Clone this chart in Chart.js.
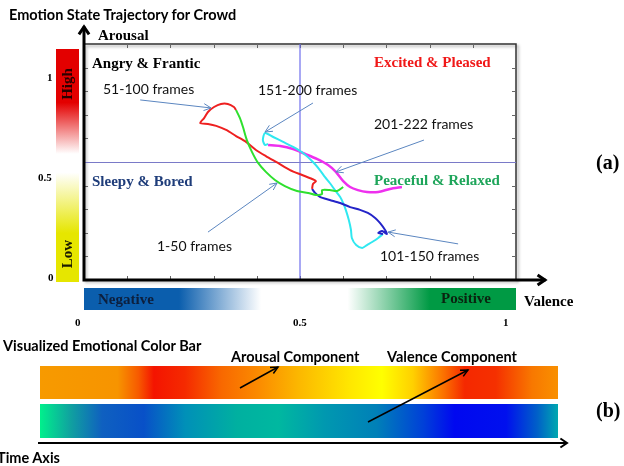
<!DOCTYPE html>
<html lang="en">
<head>
<meta charset="UTF-8">
<title>Emotion State Trajectory for Crowd</title>
<style>
    body { margin: 0; background: #fff; }
    #wrap { position: relative; width: 624px; height: 466px; overflow: hidden; }
    #chart { position: absolute; left: 0; top: 0; z-index: 1; }
    .bar { position: absolute; z-index: 0; }
    .lbl { position: absolute; z-index: 2; white-space: nowrap; line-height: 1; transform: translateY(-50%); }
    .serif { font-family: "Liberation Serif", serif; font-weight: bold; font-size: 15px; color: #000; }
    .sans { font-family: Lato, sans-serif; font-size: 14px; color: #111; }
    .head { font-family: Lato, sans-serif; font-weight: bold; font-size: 14.5px; color: #000; }
    .tick { font-family: "Liberation Serif", serif; font-weight: bold; font-size: 11px; color: #000; }
    .rot { transform: translate(-50%, -50%) rotate(-90deg); }

    #arousalScale { left: 56px; top: 49px; width: 23px; height: 233px;
        background: linear-gradient(to bottom, #e30000 0%, #e30000 23%, #ffffff 45%, #ffffff 53%, #e6e600 79%, #e6e600 100%); }
    #valenceScale { left: 84px; top: 288px; width: 432px; height: 22px;
        background: linear-gradient(to right, #0b5ead 0%, #0b5ead 22%, #ffffff 41%, #ffffff 61%, #009a44 80%, #009a44 100%); }
    #arousalBand { left: 40px; top: 366px; width: 518px; height: 33px;
        background: linear-gradient(to right, #f79a00 0%, #f79400 15%, #f75a00 19%, #f41400 22%, #f52a00 28%, #f86800 35%,
            #fb8a00 42%, #fcb800 50%, #ffe800 60%, #ffff00 66%, #ffd000 72%, #fb7000 78%, #f52800 82%, #f53000 88%,
            #f87800 95%, #f99000 100%); }
    #valenceBand { left: 40px; top: 404px; width: 518px; height: 34px;
        background: linear-gradient(to right, #00f08c 0%, #10a0a0 6%, #0f60c0 12%, #0850c8 20%, #0090b8 28%, #00b0a0 38%,
            #00b8a0 46%, #0098b0 55%, #0080b8 65%, #0040d8 74%, #0008f0 80%, #0010ee 90%, #0060c8 96%, #00a8b0 100%); }
</style>
</head>
<body>
<div id="wrap">
    <div class="bar" id="arousalScale"></div>
    <div class="bar" id="valenceScale"></div>
    <div class="bar" id="arousalBand"></div>
    <div class="bar" id="valenceBand"></div>

    <canvas id="chart" width="624" height="466"></canvas>

    <div class="lbl head" style="left:9px; top:15px;">Emotion State Trajectory for Crowd</div>
    <div class="lbl serif" style="left:98px; top:35px;">Arousal</div>
    <div class="lbl serif" style="left:92px; top:63px;">Angry &amp; Frantic</div>
    <div class="lbl serif" style="left:374px; top:62px; color:#f01818;">Excited &amp; Pleased</div>
    <div class="lbl serif" style="left:92px; top:181px; color:#1f3d7a;">Sleepy &amp; Bored</div>
    <div class="lbl serif" style="left:374px; top:180px; color:#1ea55a;">Peaceful &amp; Relaxed</div>

    <div class="lbl sans" style="left:103px; top:89px;">51-100 frames</div>
    <div class="lbl sans" style="left:258px; top:90px;">151-200 frames</div>
    <div class="lbl sans" style="left:374px; top:124px;">201-222 frames</div>
    <div class="lbl sans" style="left:157px; top:246px;">1-50 frames</div>
    <div class="lbl sans" style="left:380px; top:256px;">101-150 frames</div>

    <div class="lbl serif rot" style="left:67px; top:84px; color:#2a0000;">High</div>
    <div class="lbl serif rot" style="left:67px; top:254px; color:#1a1a00;">Low</div>
    <div class="lbl tick" style="left:47px; top:77px;">1</div>
    <div class="lbl tick" style="left:38px; top:177px;">0.5</div>
    <div class="lbl tick" style="left:48px; top:277px;">0</div>

    <div class="lbl serif" style="left:98px; top:299px; color:#0d1f3d;">Negative</div>
    <div class="lbl serif" style="left:441px; top:298px; color:#0a2410;">Positive</div>
    <div class="lbl serif" style="left:524px; top:301px;">Valence</div>
    <div class="lbl tick" style="left:75px; top:322px;">0</div>
    <div class="lbl tick" style="left:293px; top:322px;">0.5</div>
    <div class="lbl tick" style="left:503px; top:322px;">1</div>

    <div class="lbl serif" style="left:596px; top:162px; font-size:20px;">(a)</div>
    <div class="lbl serif" style="left:596px; top:410px; font-size:20px;">(b)</div>

    <div class="lbl head" style="left:3px; top:346px;">Visualized Emotional Color Bar</div>
    <div class="lbl head" style="left:231px; top:357px;">Arousal Component</div>
    <div class="lbl head" style="left:387px; top:357px;">Valence Component</div>
    <div class="lbl head" style="left:-3px; top:458px;">Time Axis</div>
</div>

<script src="https://cdn.jsdelivr.net/npm/chart.js"></script>
<script>
// trajectory segments (valence, arousal in 0..1)
const segmentNames = ['1-50 frames', '51-100 frames', '101-150 frames', '151-200 frames', '201-222 frames'];
const segmentColors = ['#2ee02e', '#ee2020', '#2424c8', '#30e8f0', '#ee30ee'];

const valence1_50 = [0.600, 0.586, 0.569, 0.551, 0.551, 0.537, 0.519, 0.493, 0.465, 0.442, 0.421, 0.403, 0.389, 0.377, 0.368, 0.361, 0.352];
const arousal1_50 = [0.394, 0.377, 0.381, 0.381, 0.364, 0.360, 0.369, 0.377, 0.398, 0.424, 0.458, 0.496, 0.542, 0.593, 0.648, 0.686, 0.720];

const valence51_100 = [0.352, 0.347, 0.333, 0.317, 0.301, 0.287, 0.278, 0.269, 0.287, 0.306, 0.329, 0.352, 0.375, 0.398, 0.421, 0.449, 0.477, 0.505, 0.528, 0.537, 0.530, 0.528];
const arousal51_100 = [0.720, 0.733, 0.746, 0.746, 0.733, 0.712, 0.686, 0.665, 0.661, 0.653, 0.636, 0.610, 0.585, 0.551, 0.525, 0.496, 0.466, 0.445, 0.428, 0.419, 0.407, 0.386];

const valence101_150 = [0.528, 0.535, 0.546, 0.569, 0.593, 0.616, 0.639, 0.657, 0.674, 0.685, 0.697, 0.701, 0.690, 0.681, 0.692];
const arousal101_150 = [0.386, 0.369, 0.352, 0.339, 0.326, 0.309, 0.297, 0.284, 0.263, 0.242, 0.212, 0.195, 0.208, 0.199, 0.195];

const valence151_200 = [0.692, 0.681, 0.667, 0.655, 0.644, 0.630, 0.620, 0.618, 0.613, 0.606, 0.600, 0.593, 0.581, 0.569, 0.558, 0.546, 0.530, 0.507, 0.484, 0.461, 0.438, 0.419, 0.414, 0.419, 0.426];
const arousal151_200 = [0.195, 0.178, 0.161, 0.148, 0.136, 0.148, 0.178, 0.212, 0.254, 0.297, 0.326, 0.352, 0.381, 0.411, 0.436, 0.466, 0.500, 0.538, 0.564, 0.585, 0.606, 0.623, 0.593, 0.572, 0.576];

const valence201_222 = [0.426, 0.454, 0.484, 0.512, 0.539, 0.565, 0.583, 0.600, 0.616, 0.634, 0.655, 0.681, 0.708, 0.736];
const arousal201_222 = [0.572, 0.568, 0.555, 0.534, 0.513, 0.487, 0.458, 0.419, 0.394, 0.381, 0.373, 0.373, 0.386, 0.394];

// callout arrows for the frame labels (tail -> head, data units)
const calloutTail = [[0.287, 0.203], [0.130, 0.763], [0.866, 0.153], [0.530, 0.750], [0.787, 0.593]];
const calloutHead = [[0.447, 0.411], [0.294, 0.729], [0.704, 0.203], [0.419, 0.627], [0.583, 0.458]];

const gridTicks = [0.1, 0.2, 0.3, 0.4, 0.5, 0.6, 0.7, 0.8, 0.9];

const valenceSets = [valence1_50, valence51_100, valence101_150, valence151_200, valence201_222];
const arousalSets = [arousal1_50, arousal51_100, arousal101_150, arousal151_200, arousal201_222];

function chevron(ctx, x0, y0, x1, y1, len, spread) {
    const ang = Math.atan2(y1 - y0, x1 - x0);
    ctx.beginPath();
    ctx.moveTo(x1 - len * Math.cos(ang - spread), y1 - len * Math.sin(ang - spread));
    ctx.lineTo(x1, y1);
    ctx.lineTo(x1 - len * Math.cos(ang + spread), y1 - len * Math.sin(ang + spread));
    ctx.stroke();
}

function arrow(ctx, x0, y0, x1, y1, len, spread) {
    ctx.beginPath();
    ctx.moveTo(x0, y0);
    ctx.lineTo(x1, y1);
    ctx.stroke();
    chevron(ctx, x0, y0, x1, y1, len, spread);
}

const frameDeco = {
    id: 'frameDeco',
    beforeDatasetsDraw(chart) {
        const { ctx, chartArea: a, scales: { x, y } } = chart;
        ctx.save();
        ctx.shadowColor = 'rgba(0,0,0,0.35)';
        ctx.shadowOffsetX = 2;
        ctx.shadowOffsetY = 2;
        ctx.shadowBlur = 3;
        ctx.strokeStyle = '#333';
        ctx.lineWidth = 1.5;
        ctx.strokeRect(a.left, a.top, a.right - a.left, a.bottom - a.top);
        ctx.restore();

        ctx.save();
        ctx.strokeStyle = '#666';
        ctx.lineWidth = 1;
        gridTicks.forEach(t => {
            const px = Math.round(x.getPixelForValue(t)) + 0.5;
            const py = Math.round(y.getPixelForValue(t)) + 0.5;
            ctx.beginPath();
            ctx.moveTo(px, a.top); ctx.lineTo(px, a.top + 4);
            ctx.moveTo(px, a.bottom); ctx.lineTo(px, a.bottom - 4);
            ctx.moveTo(a.left, py); ctx.lineTo(a.left + 4, py);
            ctx.moveTo(a.right, py); ctx.lineTo(a.right - 4, py);
            ctx.stroke();
        });
        // quadrant dividers
        ctx.strokeStyle = 'rgba(100,100,235,0.75)';
        ctx.lineWidth = 1.5;
        ctx.beginPath();
        ctx.moveTo(x.getPixelForValue(0.5), a.top);
        ctx.lineTo(x.getPixelForValue(0.5), a.bottom);
        ctx.stroke();
        ctx.strokeStyle = '#7a7ac8';
        ctx.lineWidth = 1;
        ctx.beginPath();
        ctx.moveTo(a.left, Math.round(y.getPixelForValue(0.5)) + 0.5);
        ctx.lineTo(a.right, Math.round(y.getPixelForValue(0.5)) + 0.5);
        ctx.stroke();
        ctx.restore();
    },
    afterDraw(chart) {
        const { ctx, chartArea: a, scales: { x, y } } = chart;
        ctx.save();
        // callouts
        ctx.strokeStyle = '#5b86c0';
        ctx.lineWidth = 1;
        calloutTail.forEach((t, i) => {
            const h = calloutHead[i];
            arrow(ctx, x.getPixelForValue(t[0]), y.getPixelForValue(t[1]),
                x.getPixelForValue(h[0]), y.getPixelForValue(h[1]), 8, 0.45);
        });
        // main axes
        ctx.strokeStyle = '#000';
        ctx.lineWidth = 3;
        ctx.lineCap = 'square';
        ctx.beginPath();
        ctx.moveTo(a.left, a.bottom);
        ctx.lineTo(a.left, a.top - 16);
        ctx.moveTo(a.left, a.bottom);
        ctx.lineTo(a.right + 28, a.bottom);
        ctx.stroke();
        ctx.lineCap = 'butt';
        chevron(ctx, a.left, a.bottom, a.left, a.top - 17, 9, 0.6);
        chevron(ctx, a.left, a.bottom, a.right + 29, a.bottom, 9, 0.6);

        // time-line part (b)
        ctx.lineWidth = 2;
        arrow(ctx, 38, 443, 567, 443, 8, 0.6);
        ctx.lineWidth = 1.5;
        arrow(ctx, 240, 388, 278, 367, 8, 0.45);
        arrow(ctx, 368, 422, 468, 370, 8, 0.45);
        ctx.restore();
    }
};

const datasets = segmentNames.map((name, i) => ({
    label: name,
    data: valenceSets[i].map((v, j) => ({ x: v, y: arousalSets[i][j] })),
    borderColor: segmentColors[i],
    borderWidth: i === 4 ? 2.5 : 2,
    showLine: true,
    pointRadius: 0,
    tension: 0.25
}));

new Chart(document.getElementById('chart'), {
    type: 'scatter',
    data: { datasets },
    options: {
        responsive: false,
        animation: false,
        devicePixelRatio: 1,
        layout: { padding: { left: 84, right: 108, top: 44, bottom: 186 } },
        plugins: { legend: { display: false }, tooltip: { enabled: false } },
        scales: {
            x: { type: 'linear', min: 0, max: 1, display: false },
            y: { type: 'linear', min: 0, max: 1, display: false }
        }
    },
    plugins: [frameDeco]
});
</script>
</body>
</html>
